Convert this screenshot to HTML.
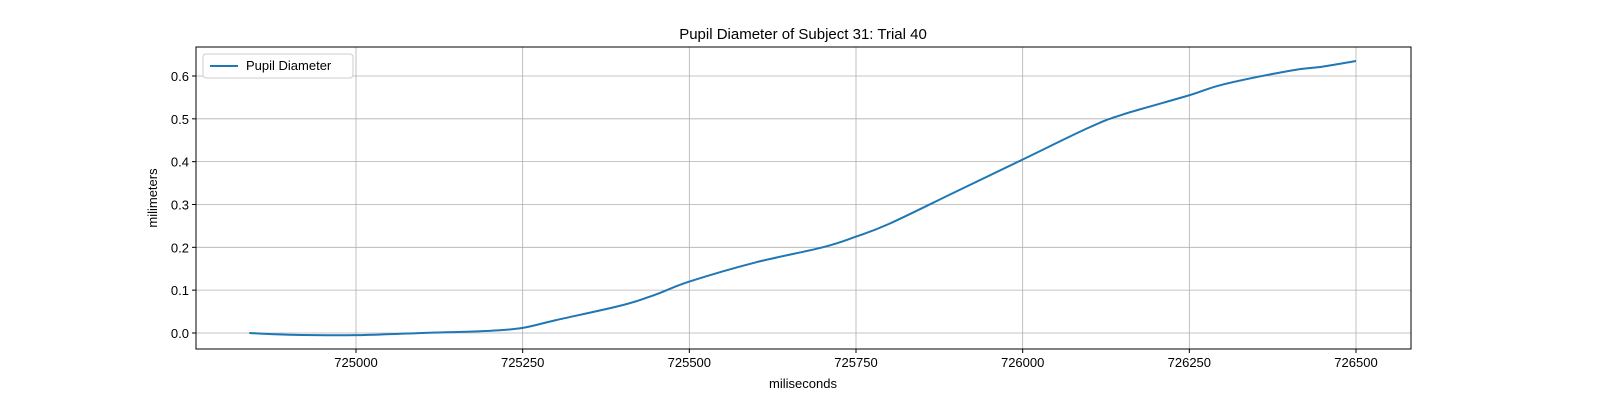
<!DOCTYPE html>
<html><head><meta charset="utf-8"><style>
html,body{margin:0;padding:0;background:#fff;}
svg{display:block;font-family:"Liberation Sans","DejaVu Sans",sans-serif;}
</style></head><body>
<svg id="chart" width="1600" height="400" viewBox="0 0 1600 400" xmlns="http://www.w3.org/2000/svg">
<rect x="0" y="0" width="1600" height="400" fill="#fff"/>
<g id="grid"></g>
<g id="axes"></g>
<g id="series"></g>
<rect x="196" y="47" width="1215" height="302" fill="none" stroke="#000" stroke-width="1"/>
<text x="803" y="39" font-size="15" text-anchor="middle">Pupil Diameter of Subject 31: Trial 40</text>
<text x="803" y="388" font-size="13" text-anchor="middle">miliseconds</text>
<text x="157" y="198" font-size="13" text-anchor="middle" transform="rotate(-90 157 198)">milimeters</text>
<g>
<rect x="203" y="54" width="150" height="24" rx="3" fill="#fff" stroke="#ccc"/>
<line x1="210" y1="66" x2="238" y2="66" stroke="#1f77b4" stroke-width="2"/>
<text x="246" y="70" font-size="13">Pupil Diameter</text>
</g>
</svg>
<script>
const times=[724840,724900,725000,725100,725200,725250,725300,725400,725450,725500,725600,725700,725750,725800,725900,726000,726100,726150,726250,726300,726400,726450,726500];
const diameters=[0.0,-0.004,-0.005,0.0,0.005,0.012,0.03,0.065,0.09,0.12,0.165,0.2,0.225,0.255,0.33,0.405,0.48,0.51,0.555,0.58,0.612,0.622,0.635];
const xTicks=[725000,725250,725500,725750,726000,726250,726500];
const yTicks=[0.0,0.1,0.2,0.3,0.4,0.5,0.6];
const L=196,R=1411,T=47,B=349;
const xMin=724760,xMax=726582.5,yMin=-0.0374,yMax=0.6677;
const sx=v=>L+(v-xMin)/(xMax-xMin)*(R-L);
const sy=v=>B-(v-yMin)/(yMax-yMin)*(B-T);
const NS="http://www.w3.org/2000/svg";
const grid=document.getElementById('grid'),axes=document.getElementById('axes'),series=document.getElementById('series');
function mk(tag,attrs,parent){const e=document.createElementNS(NS,tag);for(const k in attrs)e.setAttribute(k,attrs[k]);parent.appendChild(e);return e;}
xTicks.forEach(t=>{const x=sx(t);
 const g=mk('line',{x1:x,x2:x,y1:T,y2:B,stroke:'#b0b0b0','stroke-width':0.8},grid);
 
 
 mk('line',{x1:x,x2:x,y1:B,y2:B+4,stroke:'#000'},axes);
 const tx=mk('text',{x:x,y:B+18,'font-size':13,'text-anchor':'middle'},axes);tx.textContent=t;
 
 
});
yTicks.forEach(t=>{const y=sy(t);
 const g=mk('line',{x1:L,x2:R,y1:y,y2:y,stroke:'#b0b0b0','stroke-width':0.8},grid);
 
 
 mk('line',{x1:L-4,x2:L,y1:y,y2:y,stroke:'#000'},axes);
 const tx=mk('text',{x:L-7,y:y+5,'font-size':13,'text-anchor':'end'},axes);tx.textContent=t.toFixed(1);
 
 
});
const pts=times.map((t,i)=>[sx(t),sy(diameters[i])]);
let d='M'+pts[0][0]+','+pts[0][1];
for(let i=0;i<pts.length-1;i++){const p0=pts[Math.max(0,i-1)],p1=pts[i],p2=pts[i+1],p3=pts[Math.min(pts.length-1,i+2)];
 const c1=[p1[0]+(p2[0]-p0[0])/6,p1[1]+(p2[1]-p0[1])/6],c2=[p2[0]-(p3[0]-p1[0])/6,p2[1]-(p3[1]-p1[1])/6];
 d+=' C'+c1+' '+c2+' '+p2;}
const line=mk('path',{d:d,fill:'none',stroke:'#1f77b4','stroke-width':2},series);


</script>
</body></html>
